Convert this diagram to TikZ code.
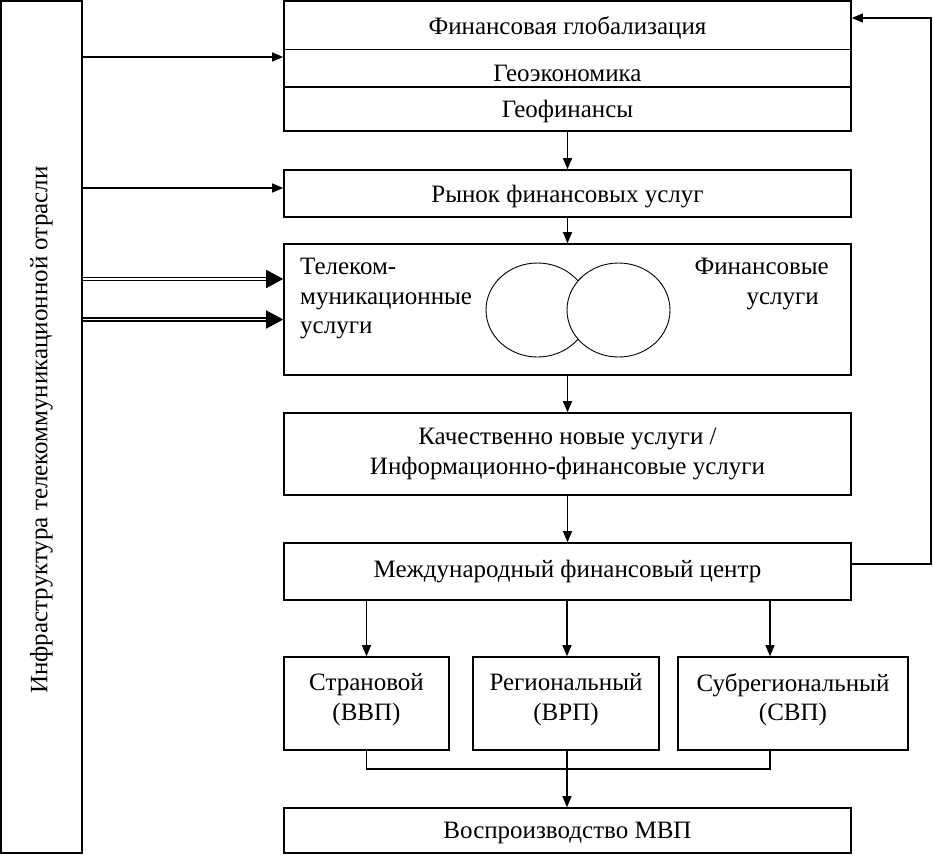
\documentclass[tikz,border=0pt]{standalone}
\usepackage{fontspec}
\setmainfont{Liberation Serif}
\usetikzlibrary{arrows.meta}
\begin{document}
\begin{tikzpicture}[x=1pt,y=-1pt,
  font=\fontsize{25}{29.5}\selectfont,
  box/.style={draw, line width=1.6pt, inner sep=0pt},
  txt/.style={inner sep=0pt},
  conn/.style={line width=1.2pt, -{Triangle[length=11pt,width=9pt]}},
  plain/.style={line width=1.2pt},
  dbl/.style={double, double distance=1.6pt, line width=1.6pt, -{Triangle[length=17pt,width=18pt]}},
  circ/.style={line width=0.9pt}]
\useasboundingbox (0,0) rectangle (933,855);
% boxes
\node[box, minimum width=81pt, minimum height=852pt] (L) at (41.5,427) {};
\node[box, minimum width=567pt, minimum height=130pt] (T) at (567.5,66) {};
\node[box, minimum width=567pt, minimum height=47pt] (R) at (567.5,193.5) {};
\node[box, minimum width=567pt, minimum height=131pt] (B) at (567.5,309.5) {};
\node[box, minimum width=567pt, minimum height=82pt] (K) at (567.5,454) {};
\node[box, minimum width=567pt, minimum height=57pt] (M) at (567.5,571.5) {};
\node[box, minimum width=165pt, minimum height=93pt] (S1) at (366.5,703.5) {};
\node[box, minimum width=186pt, minimum height=93pt] (S2) at (566,703.5) {};
\node[box, minimum width=230pt, minimum height=93pt] (S3) at (793,703.5) {};
\node[box, minimum width=567pt, minimum height=45pt] (V) at (567.5,830.5) {};
% texts
\node[txt, rotate=90] (Lt) at (41.5,430) {Инфраструктура телекоммуникационной отрасли};
\node[txt] (T1) at (567.5,28) {Финансовая глобализация};
\node[txt] (T2) at (567.5,73) {Геоэкономика};
\node[txt] (T3) at (567.5,111.5) {Геофинансы};
\draw[line width=0.8pt] (T.west |- 0,49) -- (T.east |- 0,49);
\draw[line width=1.6pt] (T.west |- 0,87) -- (T.east |- 0,87);
\node[txt] (Rt) at (567.5,196.5) {Рынок финансовых услуг};
\node[txt, anchor=west, align=left] (Bl) at (300,299) {Телеком-\\муникационные\\услуги};
\node[txt, anchor=east, align=right] (Br) at (829,284) {Финансовые\\услуги\hspace*{10pt}};
\draw[circ] (537.5,310) ellipse [x radius=51.5pt, y radius=47pt];
\draw[circ, fill=white] (618.5,310) ellipse [x radius=51.5pt, y radius=47pt];
\node[txt, align=center] (Kt) at (567.5,454) {Качественно новые услуги /\\Информационно-финансовые услуги};
\node[txt] (Mt) at (567.5,572) {Международный финансовый центр};
\node[txt, align=center] (S1t) at (366.5,699.5) {Страновой\\(ВВП)};
\node[txt, align=center] (S2t) at (566,699.5) {Региональный\\(ВРП)};
\node[txt, align=center] (S3t) at (793,699.5) {Субрегиональный\\(СВП)};
\node[txt] (Vt) at (567.5,833) {Воспроизводство МВП};
% connectors
\draw[conn] (L.east |- 0,57) -- (T.west |- 0,57);
\draw[conn] (L.east |- 0,188) -- (R.west |- 0,188);
\draw[dbl] (L.east |- 0,279) -- (B.west |- 0,279);
\draw[dbl] (L.east |- 0,319.5) -- (B.west |- 0,319.5);
\draw[conn] (T.south) -- (R.north);
\draw[conn] (R.south) -- (B.north);
\draw[conn] (B.south) -- (K.north);
\draw[conn] (K.south) -- (M.north);
\draw[conn] (M.south -| S1.north) -- (S1.north);
\draw[conn] (M.south -| 567,0) -- (S2.north -| 567,0);
\draw[conn] (M.south -| 770,0) -- (S3.north -| 770,0);
\draw[plain] (S1.south) -- (S1.south |- 0,769) -- (770,769) -- (S3.south -| 770,0);
\draw[conn] (S2.south -| 567,0) -- (V.north -| 567,0);
\draw[conn] (M.east |- 0,564) -- (931,564) -- (931,18) -- (T.east |- 0,18);
\end{tikzpicture}
\end{document}
